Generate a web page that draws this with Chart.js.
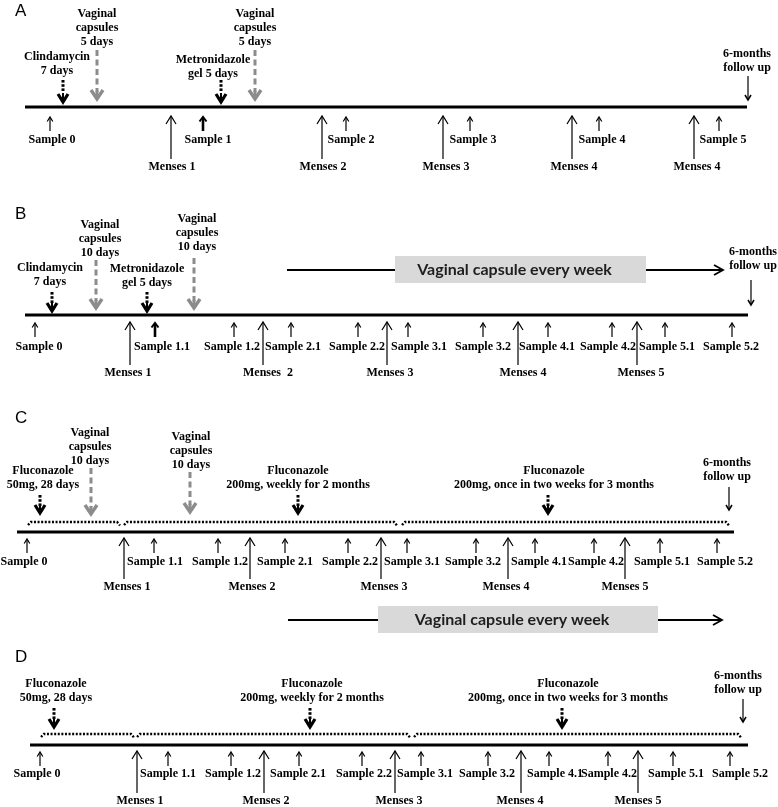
<!DOCTYPE html>
<html>
<head>
<meta charset="utf-8">
<script src="https://cdn.jsdelivr.net/npm/chart.js@4.4.0/dist/chart.umd.min.js"></script>
<style>
html, body { margin: 0; padding: 0; background: #fff; }
#wrap { width: 778px; height: 807px; }
</style>
</head>
<body>
<div id="wrap"><canvas id="schemeChart" width="778" height="807"></canvas></div>
<script>
// time positions along each timeline (shared 0..778 axis)
var panels = ['A', 'B', 'C', 'D'];
var lineStart = [25, 25, 17, 30];
var lineEnd = [747, 748, 734, 748];
var followUpAt = [748, 751, 729, 743];

var sampleNames = [
    ['Sample 0', 'Sample 1', 'Sample 2', 'Sample 3', 'Sample 4', 'Sample 5'],
    ['Sample 0', 'Sample 1.1', 'Sample 1.2', 'Sample 2.1', 'Sample 2.2', 'Sample 3.1', 'Sample 3.2', 'Sample 4.1', 'Sample 4.2', 'Sample 5.1', 'Sample 5.2'],
    ['Sample 0', 'Sample 1.1', 'Sample 1.2', 'Sample 2.1', 'Sample 2.2', 'Sample 3.1', 'Sample 3.2', 'Sample 4.1', 'Sample 4.2', 'Sample 5.1', 'Sample 5.2'],
    ['Sample 0', 'Sample 1.1', 'Sample 1.2', 'Sample 2.1', 'Sample 2.2', 'Sample 3.1', 'Sample 3.2', 'Sample 4.1', 'Sample 4.2', 'Sample 5.1', 'Sample 5.2']
];
var sampleAt = [
    [50, 203, 346, 470, 599, 719],
    [35, 155, 234, 291, 358, 408, 483, 548, 612, 665, 732],
    [27, 154, 218, 285, 348, 407, 476, 535, 594, 660, 717],
    [40, 168, 231, 299, 362, 421, 488, 549, 608, 673, 730]
];
var boldSample = ['Sample 1', 'Sample 1.1'];  // only in A and B

var mensesNames = [
    ['Menses 1', 'Menses 2', 'Menses 3', 'Menses 4', 'Menses 4'],
    ['Menses 1', 'Menses  2', 'Menses 3', 'Menses 4', 'Menses 5'],
    ['Menses 1', 'Menses 2', 'Menses 3', 'Menses 4', 'Menses 5'],
    ['Menses 1', 'Menses 2', 'Menses 3', 'Menses 4', 'Menses 5']
];
var mensesAt = [
    [171, 322, 443, 572, 694],
    [130, 263, 387, 518, 637],
    [124, 250, 381, 508, 625],
    [137, 264, 395, 521, 638]
];

var drugText = [
    [['Clindamycin', '7 days'], ['Metronidazole', 'gel 5 days']],
    [['Clindamycin', '7 days'], ['Metronidazole', 'gel 5 days']],
    [['Fluconazole', '50mg, 28 days'], ['Fluconazole', '200mg, weekly for 2 months'], ['Fluconazole', '200mg, once in two weeks for 3 months']],
    [['Fluconazole', '50mg, 28 days'], ['Fluconazole', '200mg, weekly for 2 months'], ['Fluconazole', '200mg, once in two weeks for 3 months']]
];
var drugAt = [[63, 221], [52, 147], [40, 298, 548], [54, 310, 562]];

var capsText = [
    [['Vaginal', 'capsules', '5 days'], ['Vaginal', 'capsules', '5 days']],
    [['Vaginal', 'capsules', '10 days'], ['Vaginal', 'capsules', '10 days']],
    [['Vaginal', 'capsules', '10 days'], ['Vaginal', 'capsules', '10 days']],
    []
];
var capsAt = [[97, 255], [96, 194], [91, 190], []];

// fluconazole periods (dotted brackets), panels C and D
var periodFrom = [[], [], [28, 124, 402], [41, 137, 414]];
var periodTo = [[], [], [120, 397, 729], [134, 410, 741]];

// weekly capsule bar, panels B and C
var weekPanel = [1, 2];
var weekFrom = [287, 288];
var boxFrom = [395, 378];
var boxTo = [646, 658];
var weekTo = [723, 722];

// ---- layout (vertical positions, label nudges) ----
var layout = [
    { base: 107, letterY: 11, sTop: 117, sLab: 140, mLab: 167,
      dTop: [80, 80], dTip: 102, dLast: [71, 74], dDx: [-6, -8],
      cTop: [50, 50], cTip: 99, cLast: [42, 42], cDx: [0, 0],
      fLast: 68, fTop: 76, fTip: 100, fDx: -1,
      sDx: [2, 5, 5, 3, 3, 4], mDx: [1, 1, 3, 2, 3] },
    { base: 315, letterY: 214, sTop: 323, sLab: 347, mLab: 373,
      dTop: [292, 292], dTip: 311, dLast: [282, 283], dDx: [-2, 0],
      cTop: [260, 258], cTip: 308, cLast: [253, 247], cDx: [4, 3],
      fLast: 266, fTop: 280, fTip: 305, fDx: 2, weekY: 270,
      sDx: [4, 7, -2, 2, -1, 11, 0, -1, -4, 2, -1], mDx: [-2, 5, 3, 5, 4] },
    { base: 532, letterY: 418, sTop: 539, sLab: 562, mLab: 587,
      dTop: [495, 495, 495], dTip: 513, dLast: [485, 485, 485], dDx: [3, 0, 6],
      cTop: [468, 472], cTip: 514, cLast: [461, 465], cDx: [-1, 1],
      fLast: 477, fTop: 487, fTip: 510, fDx: -2, periodY: 522, weekY: 620,
      sDx: [-3, 1, 2, 0, 2, 5, -3, 4, 2, 2, 8], mDx: [3, 2, 3, -2, 0] },
    { base: 745, letterY: 657, sTop: 752, sLab: 774, mLab: 801,
      dTop: [708, 708, 708], dTip: 727, dLast: [698, 698, 698], dDx: [2, 2, 6],
      cTop: [], cTip: 0, cLast: [], cDx: [],
      fLast: 690, fTop: 699, fTip: 722, fDx: -5, periodY: 734,
      sDx: [-3, 0, 2, -1, 2, 4, -1, 6, 1, 3, 10], mDx: [3, 2, 4, -1, 0] }
];

var serif = 'bold 12px "Liberation Serif", "Times New Roman", serif';
var lineGap = 14;

// timelines and dotted periods as library line datasets
var datasets = [];
panels.forEach(function (p, i) {
    var y = layout[i].base;
    datasets.push({
        label: 'Timeline ' + p,
        data: [{ x: lineStart[i], y: y }, { x: lineEnd[i], y: y }],
        showLine: true, borderColor: '#000', borderWidth: 3, pointRadius: 0
    });
    periodFrom[i].forEach(function (x0, k) {
        var x1 = periodTo[i][k], py0 = layout[i].periodY;
        datasets.push({
            label: 'Fluconazole period ' + p + (k + 1),
            data: [{ x: x0, y: py0 + 3 }, { x: x0 + 3, y: py0 }, { x: x1 - 3, y: py0 }, { x: x1, y: py0 + 3.5 }],
            showLine: true, borderColor: '#000', borderWidth: 2.4,
            borderDash: [2, 1.6], pointRadius: 0, tension: 0
        });
    });
});
weekPanel.forEach(function (pi, k) {
    var y = layout[pi].weekY;
    datasets.push({ label: 'week lead', data: [{ x: weekFrom[k], y: y }, { x: boxFrom[k], y: y }],
        showLine: true, borderColor: '#000', borderWidth: 2, pointRadius: 0 });
    datasets.push({ label: 'week tail', data: [{ x: boxTo[k], y: y }, { x: weekTo[k], y: y }],
        showLine: true, borderColor: '#000', borderWidth: 2, pointRadius: 0 });
});

function chevron(ctx, x, y, w, h, dir) {
    // dir = -1 tip points up, +1 tip points down
    ctx.beginPath();
    ctx.moveTo(x - w, y - dir * h);
    ctx.lineTo(x, y);
    ctx.lineTo(x + w, y - dir * h);
    ctx.stroke();
}

function textLines(ctx, lines, x, lastY) {
    ctx.font = serif;
    ctx.fillStyle = '#000';
    ctx.textAlign = 'center';
    ctx.textBaseline = 'middle';
    for (var i = 0; i < lines.length; i++) {
        ctx.fillText(lines[i], x, lastY - (lines.length - 1 - i) * lineGap);
    }
}

var schemePlugin = {
    id: 'scheme',
    afterDatasetsDraw: function (chart) {
        var ctx = chart.ctx;
        var X = function (v) { return chart.scales.x.getPixelForValue(v); };
        var Y = function (v) { return chart.scales.y.getPixelForValue(v); };
        ctx.save();
        ctx.lineCap = 'butt';
        ctx.lineJoin = 'miter';

        // weekly capsule boxes
        weekPanel.forEach(function (pi, k) {
            var y = layout[pi].weekY;
            ctx.fillStyle = '#d9d9d9';
            ctx.fillRect(X(boxFrom[k]), Y(y - 14), X(boxTo[k]) - X(boxFrom[k]), Y(y + 13) - Y(y - 14));
            ctx.fillStyle = '#1e1e1e';
            ctx.font = 'bold 16px Lato, "Open Sans", sans-serif';
            ctx.textAlign = 'center';
            ctx.textBaseline = 'middle';
            ctx.fillText('Vaginal capsule every week', X((boxFrom[k] + boxTo[k]) / 2 - 6), Y(y));
            ctx.strokeStyle = '#000';
            ctx.lineWidth = 1.8;
            ctx.beginPath();
            ctx.moveTo(X(weekTo[k]) - 9, Y(y) - 5);
            ctx.lineTo(X(weekTo[k]), Y(y));
            ctx.lineTo(X(weekTo[k]) - 9, Y(y) + 5);
            ctx.stroke();
        });

        panels.forEach(function (p, i) {
            var L = layout[i];

            // panel letter
            ctx.fillStyle = '#000';
            ctx.font = '17px "Liberation Sans", Arial, sans-serif';
            ctx.textAlign = 'left';
            ctx.textBaseline = 'middle';
            ctx.fillText(p, X(15), Y(L.letterY));

            // samples
            sampleAt[i].forEach(function (t, k) {
                var bold = i < 2 && boldSample.indexOf(sampleNames[i][k]) >= 0;
                var x = X(t);
                ctx.strokeStyle = '#000';
                ctx.lineWidth = bold ? 2.6 : 1.2;
                ctx.beginPath();
                ctx.moveTo(x, Y(L.sTop + 1));
                ctx.lineTo(x, Y(L.sTop + 14));
                ctx.stroke();
                ctx.lineWidth = bold ? 2 : 1.2;
                chevron(ctx, x, Y(L.sTop), bold ? 3.5 : 2.8, 4.5, -1);
                textLines(ctx, [sampleNames[i][k]], X(t + L.sDx[k]), L.sLab);
            });

            // menses
            mensesAt[i].forEach(function (t, k) {
                var x = X(t);
                ctx.strokeStyle = '#000';
                ctx.lineWidth = 1.2;
                ctx.beginPath();
                ctx.moveTo(x, Y(L.sTop - 1));
                ctx.lineTo(x, Y(L.mLab - 8));
                ctx.stroke();
                chevron(ctx, x, Y(L.sTop - 1), 5, 8, -1);
                textLines(ctx, [mensesNames[i][k]], X(t + L.mDx[k]), L.mLab);
            });

            // drug arrows: dotted black
            drugAt[i].forEach(function (t, k) {
                var x = X(t), top = Y(L.dTop[k]), tip = Y(L.dTip);
                ctx.fillStyle = '#000';
                for (var d = 0; d < 3; d++) ctx.fillRect(x - 1.5, top + d * 4.2, 3, 2.6);
                ctx.strokeStyle = '#000';
                ctx.lineWidth = 2;
                ctx.beginPath();
                ctx.moveTo(x, tip - 9);
                ctx.lineTo(x, tip - 2);
                ctx.stroke();
                ctx.lineWidth = 3.2;
                chevron(ctx, x, tip, 5, 8, 1);
                textLines(ctx, drugText[i][k], X(t + L.dDx[k]), L.dLast[k]);
            });

            // vaginal capsule arrows: grey dashed
            capsAt[i].forEach(function (t, k) {
                var x = X(t), top = Y(L.cTop[k]), tip = Y(L.cTip - (i === 2 && k === 1 ? 2 : 0));
                ctx.strokeStyle = '#8c8c8c';
                ctx.lineWidth = 3;
                ctx.setLineDash([6, 3.5]);
                ctx.beginPath();
                ctx.moveTo(x, top);
                ctx.lineTo(x, tip - 7);
                ctx.stroke();
                ctx.setLineDash([]);
                ctx.beginPath();
                ctx.moveTo(x, tip - 8);
                ctx.lineTo(x, tip - 2);
                ctx.stroke();
                ctx.lineWidth = 3.4;
                chevron(ctx, x, tip, 6, 9, 1);
                textLines(ctx, capsText[i][k], X(t + L.cDx[k]), L.cLast[k]);
            });

            // 6-months follow up
            var fx = X(followUpAt[i]);
            ctx.strokeStyle = '#000';
            ctx.lineWidth = 1.2;
            ctx.beginPath();
            ctx.moveTo(fx, Y(L.fTop));
            ctx.lineTo(fx, Y(L.fTip - 1));
            ctx.stroke();
            ctx.lineWidth = 1.5;
            chevron(ctx, fx, Y(L.fTip), 3, 5, 1);
            textLines(ctx, ['6-months', 'follow up'], X(followUpAt[i] + L.fDx), L.fLast);
        });
        ctx.restore();
    }
};

var chart = new Chart(document.getElementById('schemeChart'), {
    type: 'scatter',
    data: { datasets: datasets },
    options: {
        responsive: false,
        animation: false,
        layout: { padding: 0 },
        plugins: {
            legend: { display: false },
            tooltip: { enabled: false }
        },
        scales: {
            x: { type: 'linear', min: 0, max: 778, display: false },
            y: { type: 'linear', min: 0, max: 807, reverse: true, display: false }
        }
    },
    plugins: [schemePlugin]
});
</script>
</body>
</html>
